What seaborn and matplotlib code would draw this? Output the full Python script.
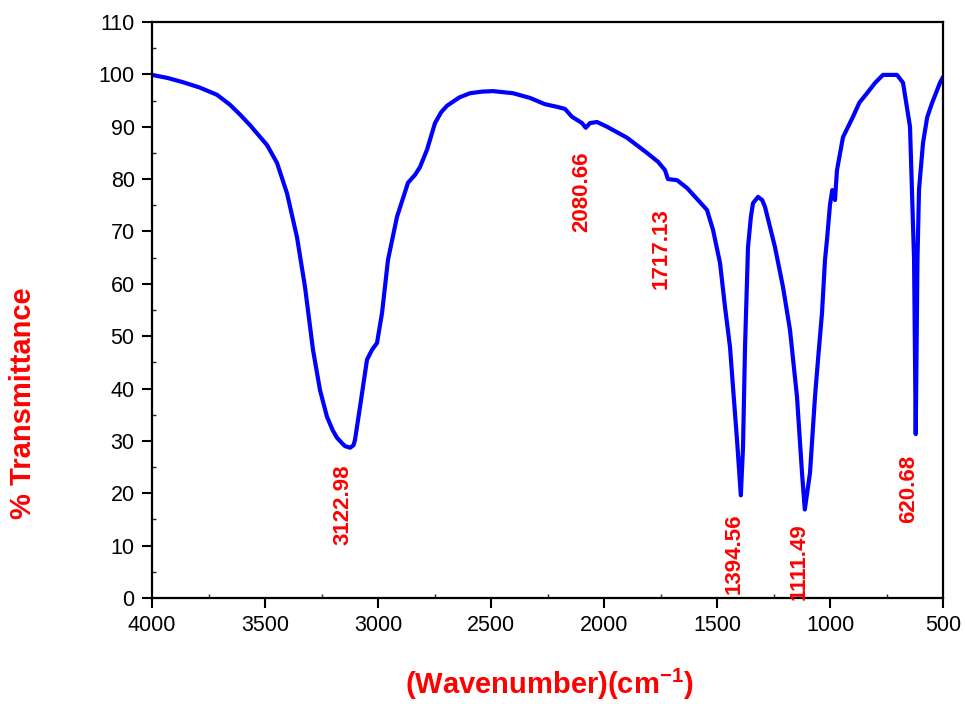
import matplotlib
matplotlib.use("Agg")
import matplotlib.pyplot as plt
from matplotlib.ticker import MultipleLocator
import seaborn as sns
import pandas as pd

# FTIR spectrum: wavenumber (cm-1) and % transmittance
wavenumber = [
    4000, 3930, 3862.8, 3790, 3712.4, 3654.9, 3610, 3566.4, 3491.1, 3446.9,
    3402.7, 3358.4, 3323.0, 3287.6, 3256.6, 3225.7, 3200.0, 3181.4, 3160.0, 3146.0,
    3122.98, 3108.0, 3101.8, 3079.6, 3048.7, 3026.5, 3004.4, 2982.3, 2955.7, 2915.9,
    2867.3, 2836.3, 2814.2, 2783.2, 2747.8, 2720.0, 2694.7, 2640.0, 2592.9, 2540.0,
    2491.2, 2402.7, 2327.4, 2261.1, 2208.0, 2172.6, 2141.6, 2097.4, 2080.66, 2062.0,
    2030.9, 1986.7, 1898.2, 1809.7, 1760.9, 1730.0, 1717.13, 1676.9, 1632.7, 1584.0,
    1544.2, 1517.6, 1486.7, 1464.6, 1442.4, 1429.2, 1411.5, 1394.56, 1384.9, 1376.0,
    1362.8, 1350.0, 1340.7, 1318.6, 1300.0, 1287.6, 1243.4, 1208.0, 1177.0, 1146.0,
    1123.9, 1111.49, 1088.5, 1066.4, 1053.1, 1035.4, 1022.1, 1013.3, 1000.0, 990.0,
    984.0, 978.0, 969.1, 942.5, 898.3, 870.0, 836.3, 800.0, 765.5, 703.5,
    676.9, 646.0, 628.0, 620.68, 613.0, 606.1, 588.4, 570.0, 548.7, 513.3,
    500,
]
transmittance = [
    99.9, 99.3, 98.5, 97.5, 96.1, 94.2, 92.3, 90.3, 86.5, 83.1,
    77.3, 68.9, 59.4, 47.4, 39.7, 34.6, 32.0, 30.6, 29.6, 29.0,
    28.7, 29.2, 30.2, 36.5, 45.5, 47.4, 48.7, 54.4, 64.6, 72.8,
    79.3, 80.8, 82.3, 85.6, 90.7, 92.8, 94.0, 95.6, 96.4, 96.7,
    96.8, 96.4, 95.5, 94.3, 93.8, 93.4, 91.9, 90.7, 89.8, 90.7,
    90.9, 90.0, 87.9, 85.0, 83.3, 81.7, 80.0, 79.8, 78.3, 76.0,
    74.1, 70.3, 64.0, 55.6, 47.9, 40.3, 30.2, 19.6, 28.8, 47.9,
    67.0, 72.8, 75.4, 76.6, 76.0, 74.7, 67.0, 59.4, 51.2, 38.4,
    23.9, 16.9, 23.9, 38.4, 45.5, 54.4, 64.6, 68.4, 75.1, 77.9,
    77.5, 76.0, 81.7, 88.0, 91.9, 94.6, 96.4, 98.4, 99.9, 99.9,
    98.4, 90.0, 64.6, 31.3, 64.6, 78.0, 86.9, 91.8, 94.5, 98.4,
    99.5,
]

# Labelled absorption bands
peak_wavenumber = [3122.98, 2080.66, 1717.13, 1394.56, 1111.49, 620.68]
peak_transmittance = [28.7, 89.8, 80.0, 19.6, 16.9, 31.3]
peak_labels = ["3122.98", "2080.66", "1717.13", "1394.56", "1111.49", "620.68"]

x_ticks = [4000, 3500, 3000, 2500, 2000, 1500, 1000, 500]
y_ticks = [0, 10, 20, 30, 40, 50, 60, 70, 80, 90, 100, 110]

sns.set_style("ticks")
plt.rcParams["font.family"] = ["Liberation Sans", "DejaVu Sans"]
plt.rcParams["mathtext.fontset"] = "custom"
plt.rcParams["mathtext.rm"] = "Liberation Sans"
plt.rcParams["mathtext.bf"] = "Liberation Sans:bold"

fig = plt.figure(figsize=(9.65, 7.04), dpi=100)
ax = fig.add_axes([152 / 965, 1 - 598 / 704, 791 / 965, 576 / 704])

df = pd.DataFrame({"wavenumber": wavenumber, "transmittance": transmittance})
sns.lineplot(data=df, x="wavenumber", y="transmittance", sort=False,
             estimator=None, color="#0000FF", linewidth=3, ax=ax)
for ln in ax.lines:
    ln.set_solid_joinstyle("round")
    ln.set_solid_capstyle("round")

ax.set_xlim(4000, 500)
ax.set_ylim(0, 110)
ax.set_xticks(x_ticks)
ax.set_yticks(y_ticks)
ax.xaxis.set_minor_locator(MultipleLocator(250))
ax.yaxis.set_minor_locator(MultipleLocator(5))
ax.set_xlabel("")
ax.set_ylabel("")

for side in ["left", "right", "top", "bottom"]:
    ax.spines[side].set_visible(True)
    ax.spines[side].set_linewidth(1.6)
    ax.spines[side].set_color("black")

ax.tick_params(axis="both", which="major", direction="out", length=7.5,
               width=1.5, labelsize=15.5, pad=5, colors="black")
ax.tick_params(axis="both", which="minor", direction="in", length=3,
               width=1.0)

# Peak annotations below each band minimum
label_offsets = [(-5, -12), (-3, -17), (-5, -21), (-5, -13), (-4, -10), (-5, -15)]
for wn, t, txt, (dx, dy) in zip(peak_wavenumber, peak_transmittance,
                                 peak_labels, label_offsets):
    ax.annotate(txt, xy=(wn, t), xytext=(dx, dy), textcoords="offset points",
                rotation=90, ha="center", va="top", color="red",
                fontsize=16, fontweight="bold", annotation_clip=False)

fig.text(23 / 965, 1 - 403 / 704, "% Transmittance", rotation=90,
         ha="center", va="center", color="red", fontsize=21,
         fontweight="bold")
fig.text(549 / 965, 1 - 694 / 704, r"(Wavenumber)(cm$^{\mathbf{-1}}$)",
         ha="center", va="baseline", color="red", fontsize=21,
         fontweight="bold")

fig.savefig("out.png", dpi=100)
